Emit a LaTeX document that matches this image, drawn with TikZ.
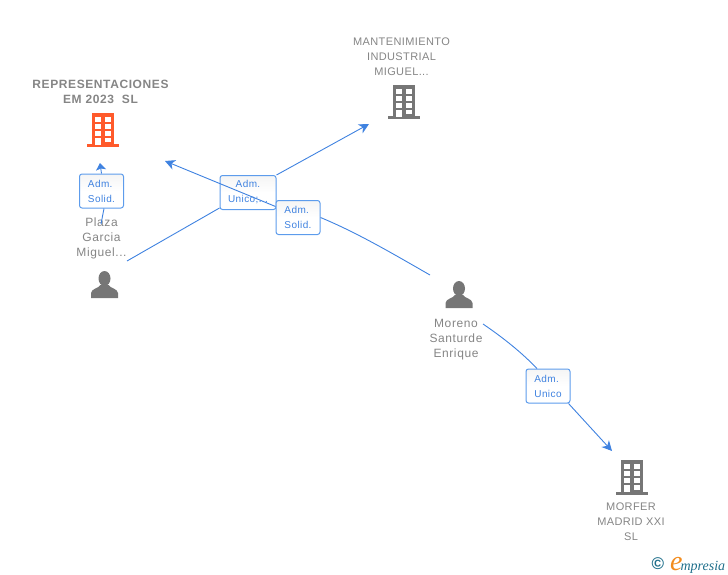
\documentclass[tikz,border=0pt]{standalone}
\usepackage{fontspec}
\setmainfont{Liberation Sans}
\newfontfamily\logofont{Liberation Serif}
\newfontfamily\spacedbold[LetterSpace=5]{Liberation Sans}
\newfontfamily\spacedperson[LetterSpace=5]{Liberation Sans}
\newfontfamily\spacedcompany[LetterSpace=3.5]{Liberation Sans}
\newfontfamily\spacedbox[LetterSpace=4]{Liberation Sans}
\usetikzlibrary{arrows.meta}
\definecolor{linkblue}{HTML}{3F82E0}
\definecolor{boxblue}{HTML}{5D9CEC}
\definecolor{labelgray}{HTML}{858585}
\definecolor{icongray}{HTML}{767676}
\definecolor{iconorange}{HTML}{FF5A2B}
\definecolor{logoteal}{HTML}{1F6F8B}
\definecolor{logoorange}{HTML}{F28C1E}
\tikzset{
  x=1pt,y=-1pt,
  link/.style={draw=linkblue,line width=0.9pt},
  tip/.style={-{Stealth[length=10pt,width=10pt,inset=3pt]}},
  shorttip/.style={-{Stealth[length=7pt,width=10pt,inset=1.5pt]}},
  rolebox/.style={draw=boxblue,line width=1pt,rounded corners=2.5pt,top color=black!4,bottom color=white,middle color=white,
    text=linkblue,font=\spacedbox\fontsize{10}{15}\selectfont,align=left,inner sep=0pt,minimum height=34pt},
  person/.style={text=labelgray,font=\spacedperson\fontsize{12}{15}\selectfont,align=center,inner sep=0pt},
  company/.style={text=labelgray,font=\spacedcompany\fontsize{11}{15}\selectfont,align=center,inner sep=0pt},
  companyb/.style={text=labelgray,font=\spacedbold\bfseries\fontsize{12}{15}\selectfont,align=center,inner sep=0pt},
  building/.pic={
    \fill[pic actions] (-11,-17) rectangle (11,15);
    \fill[pic actions] (-16,14.5) rectangle (16,17.5);
    \foreach \yy in {-13,-6,1}{
      \fill[white] (-8,\yy) rectangle (-2,\yy+5);
      \fill[white] (2,\yy) rectangle (8,\yy+5);
    }
    \fill[white] (-8,8) rectangle (-2,15);
    \fill[white] (2,8) rectangle (8,12.5);
  },
  bust/.pic={
    \fill[pic actions] (0,-6.5) ellipse (6 and 7.5);
    \fill[pic actions] (-13.5,13) -- (-13.5,8) .. controls (-13,3.5) and (-6,3.5) .. (-4,0) -- (4,0)
       .. controls (6,3.5) and (13,3.5) .. (13.5,8) -- (13.5,13) -- cycle;
  }
}
\begin{document}
\begin{tikzpicture}
\useasboundingbox (0,0) rectangle (728,575);
% labels
\node[companyb] (replabel) at (100.5,92) {REPRESENTACIONES\\EM 2023\ \ SL};
\node[company] (manlabel) at (401.5,57) {MANTENIMIENTO\\INDUSTRIAL\\MIGUEL...};
\node[company] (morlabel) at (631,521.5) {MORFER\\MADRID XXI\\SL};
\node[person] (plazalabel) at (101.5,238) {Plaza\\Garcia\\Miguel...};
\node[person] (morenolabel) at (456,339.5) {Moreno\\Santurde\\Enrique};
% icons
\path (103,130) pic[fill=iconorange] (repicon) {building};
\path (403.5,102) pic[fill=icongray] (manicon) {building};
\path (632,477) pic[fill=icongray] (moricon) {building};
\path (104.5,285) pic[fill=icongray] (plazaicon) {bust};
\path (459,295) pic[fill=icongray] (morenoicon) {bust};
% free ends
\coordinate (toRepA) at (100,163);
\coordinate (toRepB) at (165,161);
\coordinate (toMan) at (369,124);
\coordinate (toMor) at (612,451);
\coordinate (plazaOutA) at (101,224);
\coordinate (plazaOutB) at (127,261);
\coordinate (morenoOutA) at (430,275);
\coordinate (morenoOutB) at (483,324);
% boxes and connectors
\node[rolebox,minimum width=56pt,align=center] (adm2) at (248,192.5) {Adm.\\Unico;...};
\node[rolebox,minimum width=44pt] (adm1) at (101.5,191) {Adm.\\Solid.};
\draw[link] (plazaOutA) -- ([xshift=2.5pt]adm1.south);
\draw[link,shorttip] (adm1.north) -- (toRepA);
\draw[link] (plazaOutB) -- ([yshift=2pt]adm2.south west);
\draw[link,tip] (adm2.north east) -- (toMan);
\node[rolebox,minimum width=44pt] (adm3) at (298,217.5) {Adm.\\Solid.};
\draw[link,tip] ([yshift=11pt]adm3.west) -- (toRepB);
\draw[link] (morenoOutA) .. controls (395,255) and (358,233) .. (adm3.east);
\node[rolebox,minimum width=44pt] (adm4) at (548,386) {Adm.\\Unico};
\draw[link] (morenoOutB) .. controls (505,339) and (522,353) .. ([xshift=-11pt]adm4.north);
\draw[link,tip] ([xshift=-2pt]adm4.south east) -- (toMor);
% logo
\node[inner sep=0pt,text=logoteal,font=\bfseries\fontsize{17}{17}\selectfont] (copy) at (658,564) {©};
\node[inner sep=0pt,anchor=base west] (logo) at (670,570) {\logofont\itshape\textcolor{logoorange}{\fontsize{28}{28}\selectfont e}\kern-2pt\textcolor{logoteal}{\fontsize{14}{14}\selectfont mpresia}};
\end{tikzpicture}
\end{document}
